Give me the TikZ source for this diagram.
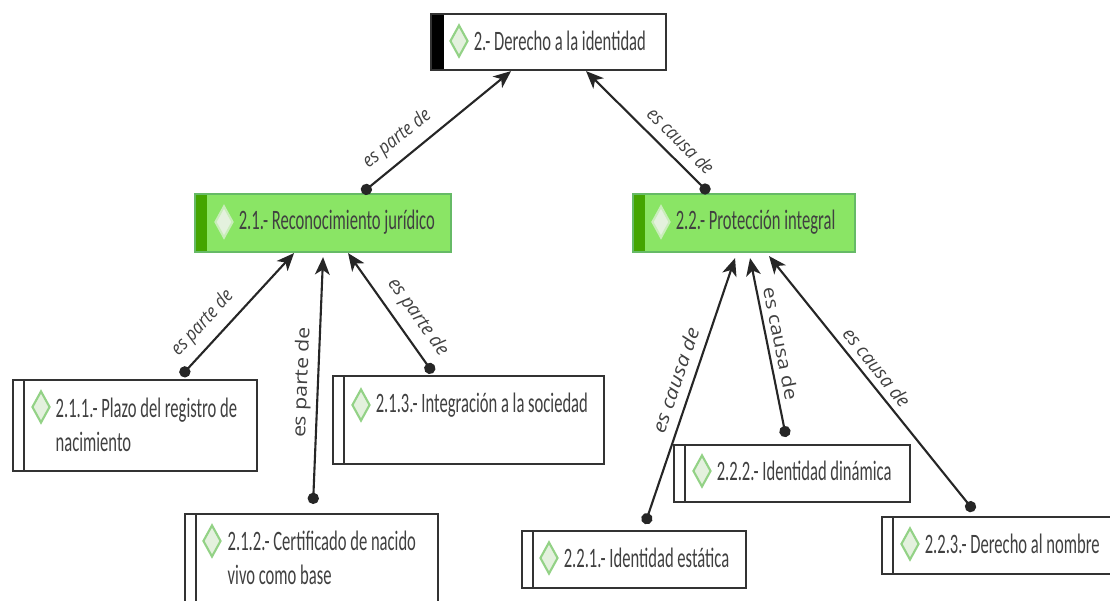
\documentclass[tikz,border=0pt]{standalone}
\usepackage{fontspec}
\usetikzlibrary{positioning,arrows.meta,shapes.geometric}
\setmainfont{Carlito}
\newfontfamily\boxfont[FakeStretch=0.59]{Carlito}
\newfontfamily\linkfont[FakeStretch=0.88]{Open Sans}
\newfontfamily\midfont[FakeStretch=0.98]{Open Sans}
\newfontfamily\steepfont[FakeStretch=1.14]{Open Sans}
\newfontfamily\tallfont[FakeStretch=1.16]{Open Sans}

\begin{document}
\begin{tikzpicture}[
    node distance=0.04cm,
    topic/.style={draw=black!80, line width=0.6pt, anchor=north west, inner sep=0pt},
    rootbox/.style={topic, fill=white, path picture={\fill[black] (path picture bounding box.north west) rectangle ([xshift=0.13cm]path picture bounding box.south west);}},
    greenbox/.style={topic, draw=green!55!black!60, fill=mygreen, path picture={\fill[mybar] (path picture bounding box.north west) rectangle ([xshift=0.12cm]path picture bounding box.south west);}},
    leafbox/.style={topic, fill=white, path picture={\draw[black!80, line width=0.5pt] ([xshift=0.11cm]path picture bounding box.north west) -- ([xshift=0.11cm]path picture bounding box.south west);}},
    gem/.style={diamond, draw=mymark, fill=mymarkfill, line width=0.6pt, inner sep=0pt, minimum width=0.18cm, minimum height=0.32cm, shape aspect=0.58},
    whitegem/.style={gem, draw=mymarkfill!70!mygreen, fill=mymarkfill},
    txt/.style={anchor=west, inner sep=0pt, align=left, text=black!75, font=\boxfont\fontsize{8}{9.7}\selectfont},
    link/.style={{Circle[length=3.2pt]}-{Stealth[length=5pt,width=4.2pt,inset=1.4pt]}, line width=0.6pt, black!85},
    rel/.style={sloped, above, inner sep=2.6pt, text=black!75, font=#1\itshape\fontsize{5.4}{6}\selectfont},
    rel/.default=\linkfont,
    tallrel/.style={sloped, above, inner sep=1.5pt, text=black!75, font=\tallfont\fontsize{5.2}{6}\selectfont}
]
\definecolor{mygreen}{HTML}{8AE565}
\definecolor{mybar}{HTML}{44A500}
\definecolor{mymark}{HTML}{93D286}
\definecolor{mymarkfill}{HTML}{E4F1DE}

\clip (0,0) rectangle (11.10,6.01);
\useasboundingbox (0,0) rectangle (11.10,6.01);

% Boxes
\node[rootbox, minimum width=2.35cm, minimum height=0.56cm] (root) at (4.30,5.88) {};
\node[greenbox, minimum width=2.56cm, minimum height=0.58cm] (recon) at (1.94,4.08) {};
\node[greenbox, minimum width=2.22cm, minimum height=0.58cm] (prot) at (6.32,4.08) {};
\node[leafbox, minimum width=2.44cm, minimum height=0.91cm] (plazo) at (0.12,2.22) {};
\node[leafbox, minimum width=2.53cm, minimum height=1.20cm] (cert) at (1.84,0.88) {};
\node[leafbox, minimum width=2.71cm, minimum height=0.88cm] (integ) at (3.32,2.26) {};
\node[leafbox, minimum width=2.24cm, minimum height=0.57cm] (estat) at (5.21,0.71) {};
\node[leafbox, minimum width=2.36cm, minimum height=0.57cm] (dinam) at (6.73,1.57) {};
\node[leafbox, minimum width=2.35cm, minimum height=0.57cm] (nombre) at (8.81,0.85) {};

% Marks
\node[gem] (mroot) at (4.59,5.60) {};
\node[whitegem] (mrecon) at (2.24,3.79) {};
\node[whitegem] (mprot) at (6.61,3.79) {};
\node[gem] (mplazo) at (0.41,1.94) {};
\node[gem] (mcert) at (2.12,0.60) {};
\node[gem] (minteg) at (3.61,1.96) {};
\node[gem] (mestat) at (5.49,0.43) {};
\node[gem] (mdinam) at (7.02,1.30) {};
\node[gem] (mnombre) at (9.10,0.57) {};

% Texts
\node[txt, right=of mroot] (troot) {2.- Derecho a la identidad};
\node[txt, right=of mrecon] (trecon) {2.1.- Reconocimiento jurídico};
\node[txt, right=of mprot] (tprot) {2.2.- Protección integral};
\node[txt] (tplazo) at (0.55,1.76) {2.1.1.- Plazo del registro de\\nacimiento};
\node[txt] (tcert) at (2.27,0.43) {2.1.2.- Certificado de nacido\\vivo como base};
\node[txt, right=of minteg] (tinteg) {2.1.3.- Integración a la sociedad};
\node[txt, right=of mestat] (testat) {2.2.1.- Identidad estática};
\node[txt, right=of mdinam] (tdinam) {2.2.2.- Identidad dinámica};
\node[txt, right=of mnombre] (tnombre) {2.2.3.- Derecho al nombre};

% Relations to the top box
\draw[link] ([xshift=0.39cm]recon.north) -- node[rel, pos=0.33, xshift=-0.02cm] {es parte de} ([xshift=-0.375cm]root.south);
\draw[link] ([xshift=-0.35cm]prot.north) -- node[rel, pos=0.38, xshift=0.09cm] {es causa de} ([xshift=0.375cm]root.south);

% Relations to 2.1
\draw[link] ([xshift=0.46cm,yshift=0.03cm]plazo.north) -- node[rel, pos=0.32] {es parte de} ([xshift=-0.29cm]recon.south);
\draw[link] ([xshift=0.015cm,yshift=0.09cm]cert.north) -- node[tallrel, pos=0.49] {es parte de} ([yshift=-0.04cm]recon.south);
\draw[link] ([xshift=-0.355cm,yshift=0.02cm]integ.north) -- node[rel=\midfont, pos=0.37] {es parte de} ([xshift=0.25cm]recon.south);

% Relations to 2.2
\draw[link] ([xshift=0.11cm,yshift=0.06cm]estat.north) -- node[rel=\steepfont, pos=0.52] {es causa de} ([xshift=-0.09cm,yshift=-0.05cm]prot.south);
\draw[link] ([xshift=-0.06cm,yshift=0.07cm]dinam.north) -- node[tallrel, pos=0.52, xshift=0.02cm] {es causa de} ([xshift=0.06cm,yshift=-0.05cm]prot.south);
\draw[link] ([xshift=-0.255cm,yshift=0.05cm]nombre.north) -- node[rel=\midfont, pos=0.55, xshift=0.07cm, yshift=-0.03cm] {es causa de} ([xshift=0.25cm,yshift=-0.03cm]prot.south);

\end{tikzpicture}
\end{document}
